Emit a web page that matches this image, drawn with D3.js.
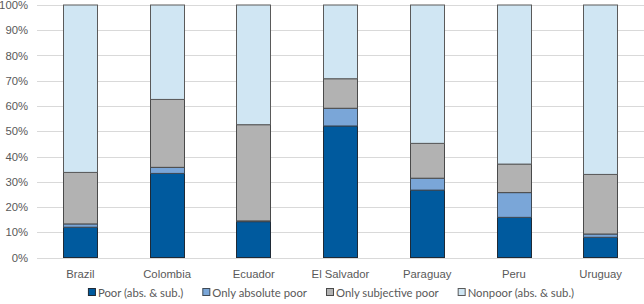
<!DOCTYPE html>
<html>
<head>
<meta charset="utf-8">
<script src="https://cdn.jsdelivr.net/npm/d3@7"></script>
<style>
  body { margin: 0; background: #fff; }
  svg { display: block; font-family: Lato, "Open Sans", sans-serif; }
</style>
</head>
<body>
<div id="chart"></div>
<script>
const countries = ["Brazil", "Colombia", "Ecuador", "El Salvador", "Paraguay", "Peru", "Uruguay"]
const seriesNames = ["Poor (abs. & sub.)", "Only absolute poor", "Only subjective poor", "Nonpoor (abs. & sub.)"]
const poorBoth = [12.0, 33.3, 14.2, 52.1, 26.7, 15.9, 8.0]
const onlyAbsolute = [1.3, 2.4, 0.3, 7.0, 4.7, 9.8, 1.3]
const onlySubjective = [20.4, 26.9, 38.1, 11.7, 13.8, 11.3, 23.6]
const nonpoor = [66.3, 37.4, 47.4, 29.2, 54.8, 63.0, 67.1]
const yTicks = [0, 10, 20, 30, 40, 50, 60, 70, 80, 90, 100]

const colors = ["#005a9e", "#7aa6d8", "#b2b2b2", "#d0e6f3"]
const strokes = ["#1f2a36", "#3f4a55", "#4a4a4a", "#5a5a5a"]

const W = 644, H = 304
const margin = { top: 5, right: 0, bottom: 46.5, left: 37 }
const width = W - margin.left - margin.right
const height = H - margin.top - margin.bottom

const rows = countries.map((c, i) => ({
    country: c,
    s0: poorBoth[i], s1: onlyAbsolute[i], s2: onlySubjective[i], s3: nonpoor[i]
}))
const stack = d3.stack().keys(["s0", "s1", "s2", "s3"])(rows)

const svg = d3.select("#chart")
    .append("svg")
    .attr("width", W)
    .attr("height", H)

const g = svg.append("g")
    .attr("transform", `translate(${margin.left}, ${margin.top})`)

const x = d3.scaleBand()
    .domain(countries)
    .range([0, width])
    .paddingInner(0.6)
    .paddingOuter(0.3)

const y = d3.scaleLinear()
    .domain([0, 100])
    .range([height, 0])

/* GRID LINES */
g.selectAll(".grid")
    .data(yTicks)
    .enter()
    .append("line")
    .attr("class", "grid")
    .attr("x1", 0)
    .attr("x2", width)
    .attr("y1", d => Math.round(y(d)) + 0.5)
    .attr("y2", d => Math.round(y(d)) + 0.5)
    .attr("stroke", "#d9d9d9")
    .attr("stroke-width", 1)

/* Y AXIS */
const yAxis = g.append("g")
    .call(d3.axisLeft(y).tickValues(yTicks).tickFormat(d => d + "%").tickSize(0).tickPadding(9))
yAxis.select(".domain").remove()
yAxis.selectAll("text")
    .style("font-size", "11.3px")
    .attr("fill", "#595959")

/* X AXIS */
const xAxis = g.append("g")
    .attr("transform", `translate(0, ${height})`)
    .call(d3.axisBottom(x).tickSize(0).tickPadding(12))
xAxis.select(".domain").remove()
xAxis.selectAll("text")
    .style("font-size", "11.3px")
    .attr("fill", "#595959")

/* BARS */
const layers = g.selectAll(".layer")
    .data(stack)
    .enter()
    .append("g")
    .attr("class", "layer")
    .attr("fill", (d, i) => colors[i])
    .attr("stroke", (d, i) => strokes[i])
    .attr("stroke-width", 1)

layers.selectAll("rect")
    .data(d => d)
    .enter()
    .append("rect")
    .attr("x", d => Math.round(x(d.data.country)) + 0.5)
    .attr("width", Math.round(x.bandwidth()) - 1)
    .attr("y", d => y(d[1]))
    .attr("height", d => y(d[0]) - y(d[1]))

/* LEGEND */
const legend = svg.append("g")
const items = legend.selectAll(".item")
    .data(seriesNames)
    .enter()
    .append("g")
    .attr("class", "item")

items.append("rect")
    .attr("x", 0.5)
    .attr("y", -8.5)
    .attr("width", 7)
    .attr("height", 7)
    .attr("fill", (d, i) => colors[i])
    .attr("stroke", (d, i) => strokes[i])

items.append("text")
    .attr("x", 10)
    .attr("y", 0)
    .style("font-size", "11.3px")
    .attr("fill", "#595959")
    .text(d => d)

let offset = 0
const gap = 19
const positions = []
items.each(function () {
    positions.push(offset)
    const w = this.querySelector("text").getComputedTextLength() + 10
    offset += w + gap
})
const total = offset - gap
const start = 331 - total / 2
items.attr("transform", (d, i) => `translate(${start + positions[i]}, 297)`)
</script>
</body>
</html>
